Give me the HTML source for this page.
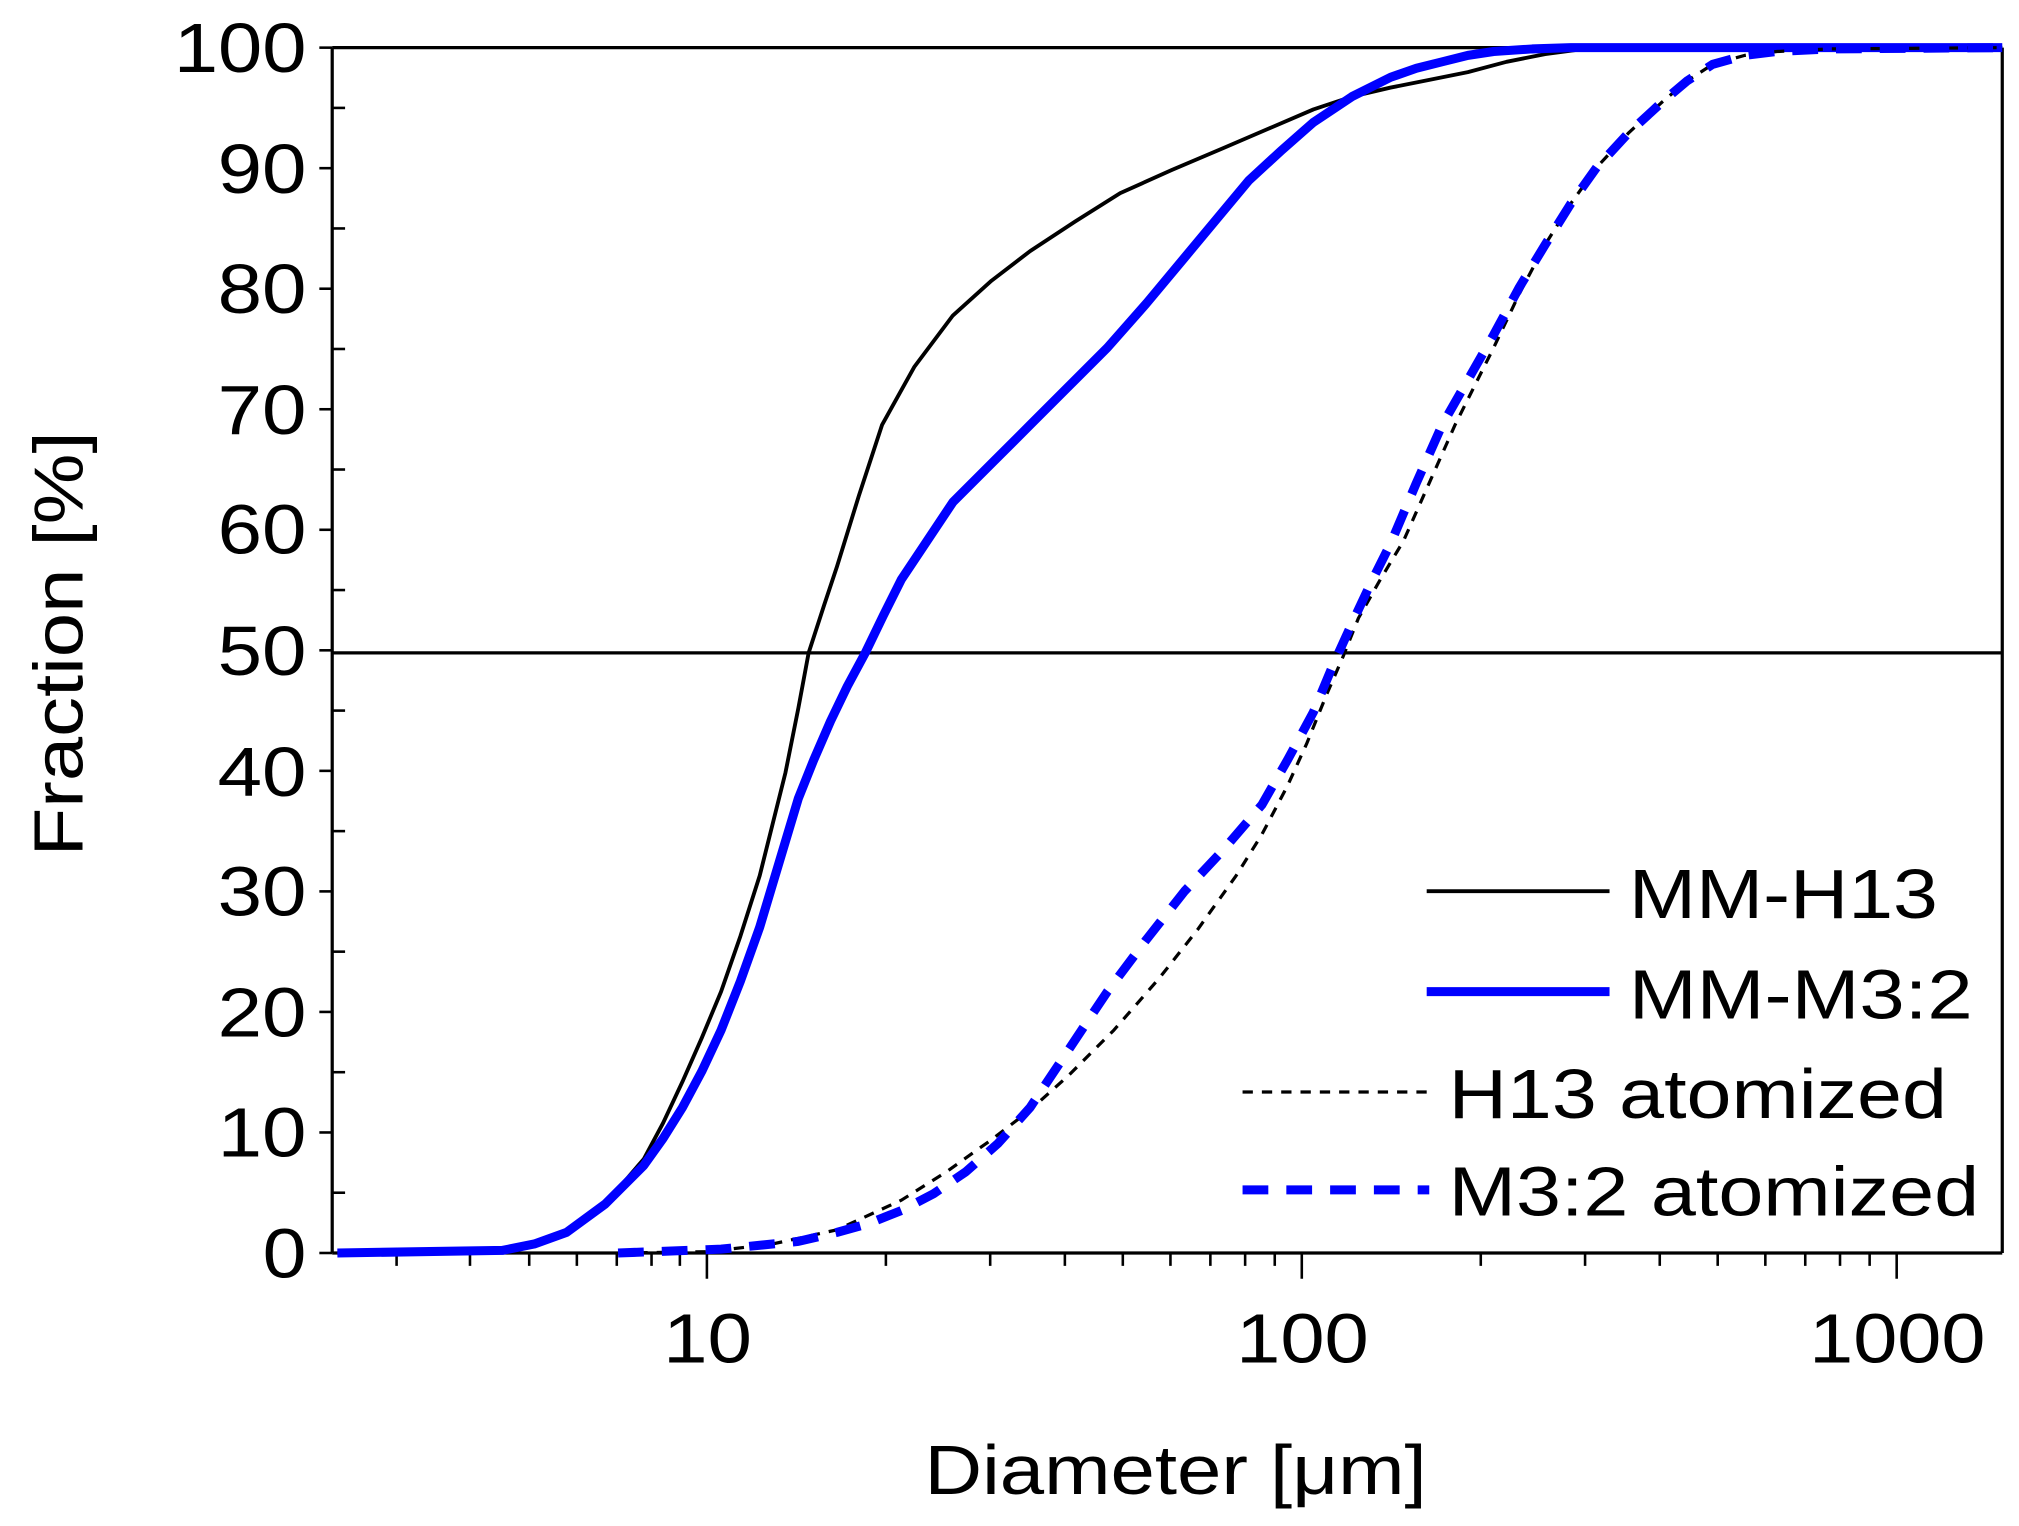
<!DOCTYPE html>
<html><head><style>html,body{margin:0;padding:0;background:#fff}svg{display:block}</style></head>
<body>
<svg width="2019" height="1526" viewBox="0 0 1568 1185" preserveAspectRatio="none" xmlns="http://www.w3.org/2000/svg" font-family="Liberation Sans, sans-serif">
<rect width="1568" height="1185" fill="#fff"/>
<g stroke="#000" stroke-width="2.5" fill="none">
<line x1="258" y1="37" x2="1555" y2="37"/>
<line x1="258" y1="973" x2="1555" y2="973"/>
<line x1="258" y1="37" x2="258" y2="973"/>
<line x1="1555" y1="37" x2="1555" y2="973"/>
<line x1="258" y1="507" x2="1555" y2="507"/>
</g>
<g stroke="#000" stroke-width="2">
<line x1="248" y1="37" x2="258" y2="37"/><line x1="248" y1="130.6" x2="258" y2="130.6"/><line x1="248" y1="224.2" x2="258" y2="224.2"/><line x1="248" y1="317.8" x2="258" y2="317.8"/><line x1="248" y1="411.4" x2="258" y2="411.4"/><line x1="248" y1="505" x2="258" y2="505"/><line x1="248" y1="598.6" x2="258" y2="598.6"/><line x1="248" y1="692.2" x2="258" y2="692.2"/><line x1="248" y1="785.8" x2="258" y2="785.8"/><line x1="248" y1="879.4" x2="258" y2="879.4"/><line x1="248" y1="973" x2="258" y2="973"/>
<line x1="258" y1="83.8" x2="268" y2="83.8"/><line x1="258" y1="177.4" x2="268" y2="177.4"/><line x1="258" y1="271" x2="268" y2="271"/><line x1="258" y1="364.6" x2="268" y2="364.6"/><line x1="258" y1="458.2" x2="268" y2="458.2"/><line x1="258" y1="551.8" x2="268" y2="551.8"/><line x1="258" y1="645.4" x2="268" y2="645.4"/><line x1="258" y1="739" x2="268" y2="739"/><line x1="258" y1="832.6" x2="268" y2="832.6"/><line x1="258" y1="926.2" x2="268" y2="926.2"/>
<line x1="549" y1="973" x2="549" y2="993"/><line x1="1011" y1="973" x2="1011" y2="993"/><line x1="1473" y1="973" x2="1473" y2="993"/>
<line x1="308" y1="973" x2="308" y2="983"/><line x1="365" y1="973" x2="365" y2="983"/><line x1="411" y1="973" x2="411" y2="983"/><line x1="448" y1="973" x2="448" y2="983"/><line x1="479" y1="973" x2="479" y2="983"/><line x1="506" y1="973" x2="506" y2="983"/><line x1="528" y1="973" x2="528" y2="983"/>
<line x1="688" y1="973" x2="688" y2="983"/><line x1="769" y1="973" x2="769" y2="983"/><line x1="827" y1="973" x2="827" y2="983"/><line x1="872" y1="973" x2="872" y2="983"/><line x1="909" y1="973" x2="909" y2="983"/><line x1="940" y1="973" x2="940" y2="983"/><line x1="967" y1="973" x2="967" y2="983"/><line x1="990" y1="973" x2="990" y2="983"/>
<line x1="1150" y1="973" x2="1150" y2="983"/><line x1="1231" y1="973" x2="1231" y2="983"/><line x1="1289" y1="973" x2="1289" y2="983"/><line x1="1334" y1="973" x2="1334" y2="983"/><line x1="1371" y1="973" x2="1371" y2="983"/><line x1="1402" y1="973" x2="1402" y2="983"/><line x1="1429" y1="973" x2="1429" y2="983"/><line x1="1452" y1="973" x2="1452" y2="983"/>
</g>
<g font-size="54" fill="#000" lengthAdjust="spacingAndGlyphs">
<text x="135" y="56" textLength="103" lengthAdjust="spacingAndGlyphs">100</text>
<text x="169" y="150" textLength="69" lengthAdjust="spacingAndGlyphs">90</text>
<text x="169" y="243" textLength="69" lengthAdjust="spacingAndGlyphs">80</text>
<text x="169" y="337" textLength="69" lengthAdjust="spacingAndGlyphs">70</text>
<text x="169" y="430" textLength="69" lengthAdjust="spacingAndGlyphs">60</text>
<text x="169" y="524" textLength="69" lengthAdjust="spacingAndGlyphs">50</text>
<text x="169" y="618" textLength="69" lengthAdjust="spacingAndGlyphs">40</text>
<text x="169" y="711" textLength="69" lengthAdjust="spacingAndGlyphs">30</text>
<text x="169" y="805" textLength="69" lengthAdjust="spacingAndGlyphs">20</text>
<text x="169" y="898" textLength="69" lengthAdjust="spacingAndGlyphs">10</text>
<text x="204" y="992" textLength="34" lengthAdjust="spacingAndGlyphs">0</text>
<text x="515" y="1058" textLength="69" lengthAdjust="spacingAndGlyphs">10</text>
<text x="960" y="1058" textLength="103" lengthAdjust="spacingAndGlyphs">100</text>
<text x="1405" y="1058" textLength="137" lengthAdjust="spacingAndGlyphs">1000</text>
<text x="718" y="1160" textLength="390" lengthAdjust="spacingAndGlyphs">Diameter [μm]</text>
<text transform="translate(64,665) rotate(-90)" x="0" y="0" textLength="330" lengthAdjust="spacingAndGlyphs">Fraction [%]</text>
<text x="1265" y="713" textLength="240" lengthAdjust="spacingAndGlyphs">MM-H13</text>
<text x="1265" y="791" textLength="267" lengthAdjust="spacingAndGlyphs">MM-M3:2</text>
<text x="1125" y="868" textLength="387" lengthAdjust="spacingAndGlyphs">H13 atomized</text>
<text x="1125" y="944" textLength="412" lengthAdjust="spacingAndGlyphs">M3:2 atomized</text>
</g>
<g fill="none" stroke-linejoin="round" stroke-linecap="butt">
<polyline stroke="#000" stroke-width="3" points="262,973 390,971 415,966 440,957 470,935 500,900 515,872 530,840 545,806 560,770 575,727 590,680 600,640 610,600 620,550 628,507 640,470 650,440 667,385 685,330 710,285 740,245 770,218 800,195 835,172 870,150 910,132 950,115 985,100 1020,85 1050,75 1080,68 1110,62 1140,56 1170,48 1200,42 1230,38 1250,37 1555,37"/>
<polyline stroke="#0000ff" stroke-width="7" points="262,973 390,971 415,966 440,957 470,935 500,905 515,884 530,860 545,832 560,800 575,762 590,720 605,670 620,620 632,590 645,560 658,533 672,507 686,478 700,450 720,420 740,390 770,360 800,330 830,300 860,270 890,236 920,200 945,170 970,140 995,117 1020,95 1050,75 1080,60 1100,53 1120,48 1140,43 1160,40 1190,38 1220,37 1555,37"/>
<polyline stroke="#000" stroke-width="2.5" stroke-dasharray="8,7" points="480,973 550,972 600,966 650,955 700,932 735,910 770,885 800,862 830,835 865,800 900,760 930,722 960,680 980,648 1000,610 1015,577 1030,540 1043,510 1055,480 1072,450 1090,420 1110,375 1130,330 1145,300 1160,270 1180,228 1200,190 1220,158 1240,130 1265,103 1290,80 1310,63 1330,50 1355,43 1380,40 1420,38 1555,37"/>
<polyline stroke="#0000ff" stroke-width="7" stroke-dasharray="20,14" points="480,973 560,970 620,964 650,957 675,950 700,940 725,927 750,910 775,888 800,860 830,815 860,770 890,730 920,692 950,660 980,625 1000,590 1020,553 1035,517 1050,484 1065,452 1080,422 1100,375 1120,330 1140,295 1160,260 1180,223 1200,190 1220,158 1240,130 1265,103 1290,80 1310,63 1330,50 1355,43 1380,40 1420,38 1555,37"/>
</g>
<g>
<line x1="1108" y1="692" x2="1250" y2="692" stroke="#000" stroke-width="3"/>
<line x1="1108" y1="770" x2="1250" y2="770" stroke="#0000ff" stroke-width="7"/>
<line x1="965" y1="848" x2="1110" y2="848" stroke="#000" stroke-width="2.5" stroke-dasharray="8,7"/>
<line x1="965" y1="924" x2="1110" y2="924" stroke="#0000ff" stroke-width="7" stroke-dasharray="20,14"/>
</g>
</svg>
</body></html>
